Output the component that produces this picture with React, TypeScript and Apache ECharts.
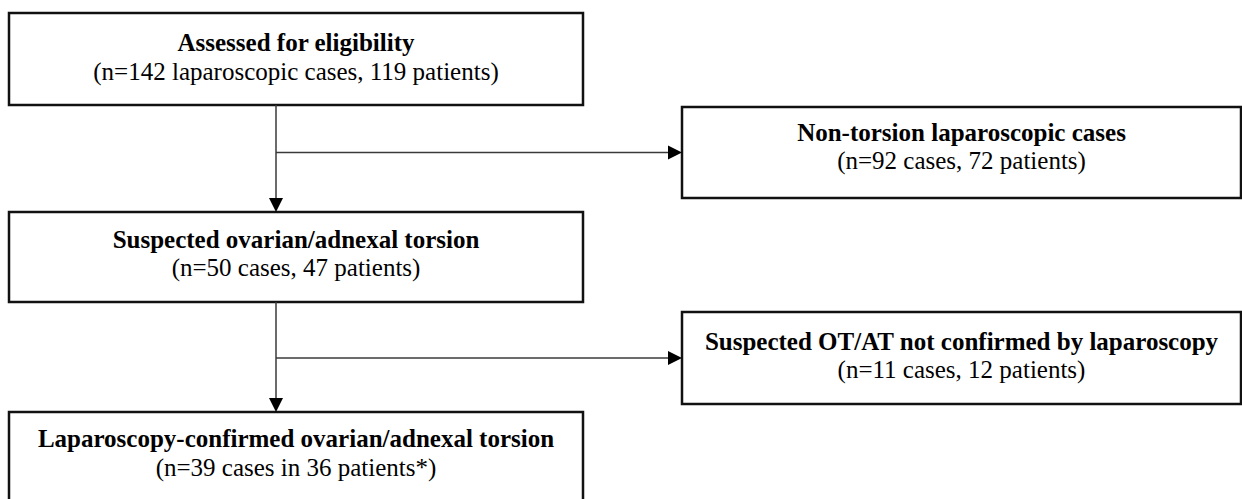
import React, { useEffect, useRef } from "react";
import * as echarts from "echarts";

// ---- content ----
const boxTitles = [
  "Assessed for eligibility",
  "Non-torsion laparoscopic cases",
  "Suspected ovarian/adnexal torsion",
  "Suspected OT/AT not confirmed by laparoscopy",
  "Laparoscopy-confirmed ovarian/adnexal torsion",
];
const boxCases = [142, 92, 50, 11, 39];
const boxPatients = [119, 72, 47, 12, 36];
const boxSubtitles = [
  `(n=${boxCases[0]} laparoscopic cases, ${boxPatients[0]} patients)`,
  `(n=${boxCases[1]} cases, ${boxPatients[1]} patients)`,
  `(n=${boxCases[2]} cases, ${boxPatients[2]} patients)`,
  `(n=${boxCases[3]} cases, ${boxPatients[3]} patients)`,
  `(n=${boxCases[4]} cases in ${boxPatients[4]} patients*)`,
];

// ---- layout (pixels) ----
const boxX = [9, 682, 9, 682, 9];
const boxY = [13, 107, 212, 312, 412];
const boxW = [574, 559, 574, 559, 574];
const boxH = [92, 91, 90, 92, 100];
const titleDy = [29, 25, 27, 29, 26];
const subDy = [58, 53, 55, 57, 55];

const FONT = '"Liberation Serif", "Times New Roman", serif';
const BORDER = "#111111";
const LINE = "#3a3a3a";

function buildGraphic() {
  const els: any[] = [];
  const n = boxTitles.length;
  for (let i = 0; i < n; i++) {
    els.push({
      type: "rect",
      shape: { x: boxX[i], y: boxY[i], width: boxW[i], height: boxH[i] },
      style: { fill: "#ffffff", stroke: BORDER, lineWidth: 2.5 },
    });
    const cx = boxX[i] + boxW[i] / 2;
    els.push({
      type: "text",
      x: cx,
      y: boxY[i] + titleDy[i],
      style: {
        text: boxTitles[i],
        font: `bold 25px ${FONT}`,
        fill: "#000000",
        textAlign: "center",
        textVerticalAlign: "middle",
        align: "center",
        verticalAlign: "middle",
      },
    });
    els.push({
      type: "text",
      x: cx,
      y: boxY[i] + subDy[i],
      style: {
        text: boxSubtitles[i],
        font: `25px ${FONT}`,
        fill: "#000000",
        textAlign: "center",
        textVerticalAlign: "middle",
        align: "center",
        verticalAlign: "middle",
      },
    });
  }

  const trunkX = 276;
  const ah = 14; // arrow head length
  const aw = 7; // half width
  // vertical connectors: box0 -> box2, box2 -> box4
  const verticals = [
    [0, 2],
    [2, 4],
  ];
  verticals.forEach(([a, b]) => {
    const y1 = boxY[a] + boxH[a];
    const y2 = boxY[b];
    els.push({
      type: "line",
      shape: { x1: trunkX, y1, x2: trunkX, y2: y2 - ah + 1 },
      style: { stroke: LINE, lineWidth: 1.5 },
    });
    els.push({
      type: "polygon",
      shape: {
        points: [
          [trunkX, y2],
          [trunkX - aw, y2 - ah],
          [trunkX + aw, y2 - ah],
        ],
      },
      style: { fill: "#000000" },
    });
  });
  // horizontal branches to the right boxes
  const branches = [1, 3];
  branches.forEach((b) => {
    const y = boxY[b] + boxH[b] / 2;
    const x2 = boxX[b];
    els.push({
      type: "line",
      shape: { x1: trunkX, y1: y, x2: x2 - ah + 1, y2: y },
      style: { stroke: LINE, lineWidth: 1.5 },
    });
    els.push({
      type: "polygon",
      shape: {
        points: [
          [x2, y],
          [x2 - ah, y - aw],
          [x2 - ah, y + aw],
        ],
      },
      style: { fill: "#000000" },
    });
  });
  return els;
}

export default function App() {
  const ref = useRef<HTMLDivElement>(null);
  useEffect(() => {
    if (!ref.current) return;
    const chart = echarts.init(ref.current, undefined, { renderer: "svg" });
    chart.setOption({
      animation: false,
      backgroundColor: "#ffffff",
      graphic: { elements: buildGraphic() },
    });
    return () => chart.dispose();
  }, []);
  return (
    <div
      ref={ref}
      style={{
        position: "fixed",
        left: 0,
        top: 0,
        width: 1242,
        height: 499,
        background: "#ffffff",
      }}
    />
  );
}
